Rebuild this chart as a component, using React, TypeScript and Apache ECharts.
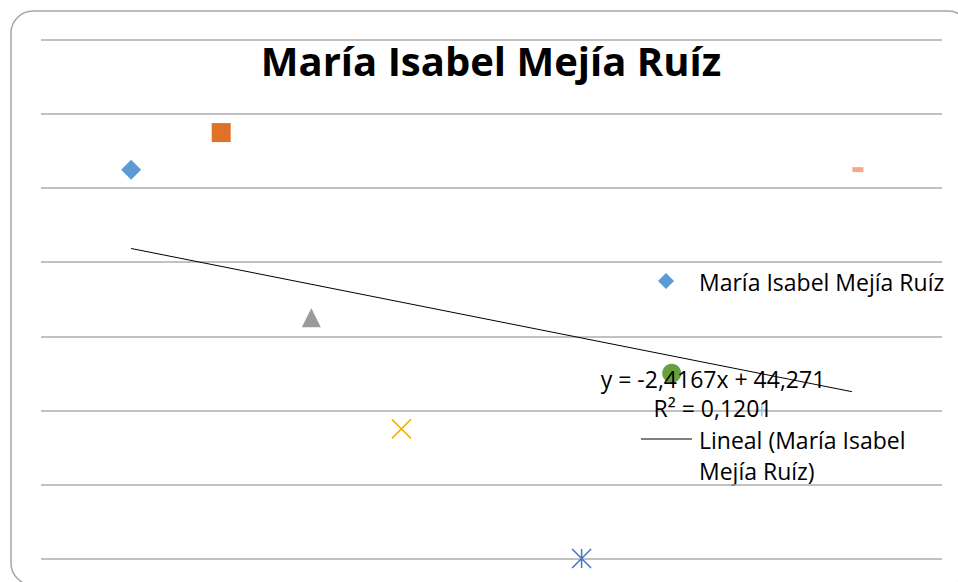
import React, { useEffect, useRef } from "react";
import * as echarts from "echarts";

// ---- data ----
const chartTitle = "María Isabel Mejía Ruíz";
const seriesName = "María Isabel Mejía Ruíz";
const trendName = "Lineal (María Isabel Mejía Ruíz)";
const xValues = [1, 2, 3, 4, 6, 7, 8, 9];
const yValues = [52.5, 57.5, 32.5, 17.5, 0, 25, 20, 52.5];
const xAxisRange = [0, 10];
const yAxisRange = [0, 70];
const yInterval = 10;

// ---- styles (Excel "vary colours by point") ----
const FONT = "'Open Sans', 'Noto Sans', sans-serif";
const markerStyles: any[] = [
  { symbol: "diamond", symbolSize: 20, itemStyle: { color: "#5B9BD5" } },
  { symbol: "rect", symbolSize: 19, itemStyle: { color: "#E07128" } },
  { symbol: "triangle", symbolSize: 19, itemStyle: { color: "#9A9A9A" } },
  {
    symbol: "path://M0,0L10,10M10,0L0,10",
    symbolSize: 19,
    itemStyle: { color: "transparent", borderColor: "#F0B400", borderWidth: 1.5 },
  },
  {
    symbol: "path://M0,0L10,10M10,0L0,10M5,0L5,10",
    symbolSize: 19,
    itemStyle: { color: "transparent", borderColor: "#4472C4", borderWidth: 1.5 },
  },
  { symbol: "circle", symbolSize: 19, itemStyle: { color: "#66A03F" } },
  {
    symbol: "path://M5,0L5,10M0,5L10,5",
    symbolSize: 12,
    itemStyle: { color: "transparent", borderColor: "#9DC3E6", borderWidth: 1.5 },
  },
  { symbol: "rect", symbolSize: [11, 5], symbolOffset: [6, 0], itemStyle: { color: "#F4AA88" } },
];

function regression(xs: number[], ys: number[]) {
  const n = xs.length;
  const mx = xs.reduce((a, b) => a + b, 0) / n;
  const my = ys.reduce((a, b) => a + b, 0) / n;
  let sxy = 0, sxx = 0, syy = 0;
  for (let i = 0; i < n; i++) {
    sxy += (xs[i] - mx) * (ys[i] - my);
    sxx += (xs[i] - mx) ** 2;
    syy += (ys[i] - my) ** 2;
  }
  const slope = sxy / sxx;
  const intercept = my - slope * mx;
  const r2 = (sxy * sxy) / (sxx * syy);
  return { slope, intercept, r2 };
}

const fmt = (v: number, d: number) => v.toFixed(d).replace(".", ",");

export default function App() {
  const ref = useRef<HTMLDivElement>(null);

  useEffect(() => {
    if (!ref.current) return;
    const chart = echarts.init(ref.current, undefined, { renderer: "svg" });
    const { slope, intercept, r2 } = regression(xValues, yValues);
    const xMin = Math.min(...xValues);
    const xMax = Math.max(...xValues);
    const trendData = [
      [xMin, intercept + slope * xMin],
      [xMax, intercept + slope * xMax],
    ];
    const eq = `y = ${fmt(slope, 4)}x + ${fmt(intercept, 3)}`;
    const r2Text = `R² = ${fmt(r2, 4)}`;

    chart.setOption({
      animation: false,
      backgroundColor: "#ffffff",
      title: {
        text: chartTitle,
        left: 491,
        top: 40,
        padding: 0,
        textAlign: "center",
        textStyle: { fontFamily: FONT, fontSize: 40, fontWeight: "bold", color: "#000" },
      },
      grid: { left: 41, right: 16, top: 40, bottom: 23.5, containLabel: false },
      xAxis: {
        type: "value",
        min: xAxisRange[0],
        max: xAxisRange[1],
        axisLine: { show: false },
        axisTick: { show: false },
        axisLabel: { show: false },
        splitLine: { show: false },
      },
      yAxis: {
        type: "value",
        min: yAxisRange[0],
        max: yAxisRange[1],
        interval: yInterval,
        axisLine: { show: false },
        axisTick: { show: false },
        axisLabel: { show: false },
        splitLine: { show: true, lineStyle: { color: "#ADADAD", width: 1.5 } },
      },
      series: [
        {
          name: trendName,
          type: "line",
          data: trendData,
          symbol: "none",
          lineStyle: { color: "#000", width: 1 },
          silent: true,
          z: 3,
        },
        {
          name: seriesName,
          type: "scatter",
          z: 2,
          itemStyle: { opacity: 1 },
          data: xValues.map((x, i) => ({
            value: [x, yValues[i]],
            ...markerStyles[i],
            itemStyle: { opacity: 1, ...markerStyles[i].itemStyle },
          })),
        },
      ],
      graphic: [
        {
          type: "rect",
          shape: { x: 11, y: 11, width: 959, height: 574, r: 22 },
          style: { fill: "none", stroke: "#A6A6A6", lineWidth: 1.5 },
          silent: true,
          z: -1,
        },
        // legend item 1
        {
          type: "polygon",
          shape: { points: [[666, 273], [674, 281], [666, 289], [658, 281]] },
          style: { fill: "#5B9BD5" },
        },
        {
          type: "text",
          x: 699,
          y: 282,
          style: {
            text: seriesName,
            font: `23px ${FONT}`,
            fill: "#000",
            verticalAlign: "middle",
          },
        },
        // legend item 2
        {
          type: "line",
          shape: { x1: 641, y1: 439, x2: 692, y2: 439 },
          style: { stroke: "#000", lineWidth: 1 },
        },
        {
          type: "text",
          x: 699,
          y: 424,
          style: {
            text: "Lineal (María Isabel\nMejía Ruíz)",
            font: `23px ${FONT}`,
            lineHeight: 31,
            fill: "#000",
            verticalAlign: "top",
          },
        },
        // trendline equation
        {
          type: "text",
          x: 713,
          y: 364.5,
          z: 10,
          style: {
            text: `${eq}\n${r2Text}`,
            font: `23px ${FONT}`,
            lineHeight: 29,
            fill: "#000",
            align: "center",
            verticalAlign: "top",
          },
        },
      ],
    });
    return () => chart.dispose();
  }, []);

  return (
    <div
      ref={ref}
      style={{ position: "absolute", left: 0, top: 0, width: 958, height: 582 }}
    />
  );
}
